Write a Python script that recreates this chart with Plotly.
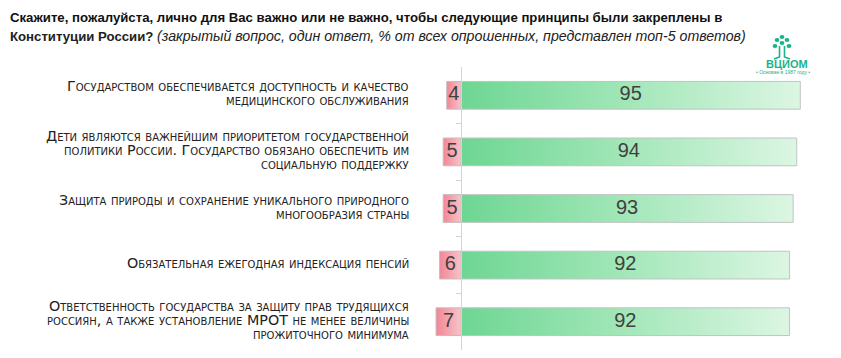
import plotly.graph_objects as go

categories = [
    "Государством обеспечивается доступность и качество<br>медицинского обслуживания",
    "Дети являются важнейшим приоритетом государственной<br>политики России. Государство обязано обеспечить им<br>социальную поддержку",
    "Защита природы и сохранение уникального природного<br>многообразия страны",
    "Обязательная ежегодная индексация пенсий",
    "Ответственность государства за защиту прав трудящихся<br>россиян, а также установление МРОТ не менее величины<br>прожиточного минимума",
]
not_important = [4, 5, 5, 6, 7]
important = [95, 94, 93, 92, 92]

title_line1 = "Скажите, пожалуйста, лично для Вас важно или не важно, чтобы следующие принципы были закреплены в"
title_line2_bold = "Конституции России?"
title_line2_note = "(закрытый вопрос, один ответ, % от всех опрошенных, представлен топ-5 ответов)"

W, H = 841, 358
ML, MR, MT, MB = 420, 5, 67, 8
XMIN, XMAX = -11.5, 105
PW = W - ML - MR
PH = H - MT - MB

def px_x(p):
    return (p - ML) / PW

def px_y(p):
    return 1 - (p - MT) / PH

BAR_H = 0.49
GREEN_SCALE = [[0, "#6dd693"], [0.5, "#a3e7b9"], [1, "#dcf6e3"]]
PINK_SCALE = [[0, "#f18796"], [1, "#f8c3c9"]]
NUM_FONT = dict(family="Liberation Sans, Arial, sans-serif", size=20, color="#404040")

fig = go.Figure()

for i, (ni, im) in enumerate(zip(not_important, important)):
    y0, y1 = i - BAR_H / 2, i + BAR_H / 2
    fig.add_trace(go.Scatter(
        x=[0, im, im, 0, 0], y=[y0, y0, y1, y1, y0],
        mode="lines", fill="toself",
        fillgradient=dict(type="horizontal", colorscale=GREEN_SCALE),
        line=dict(color="#bfc4c0", width=1),
        hoverinfo="skip", showlegend=False,
    ))
    fig.add_trace(go.Scatter(
        x=[-ni, 0, 0, -ni, -ni], y=[y0, y0, y1, y1, y0],
        mode="lines", fill="toself",
        fillgradient=dict(type="horizontal", colorscale=PINK_SCALE),
        line=dict(color="#c9b9bb", width=1),
        hoverinfo="skip", showlegend=False,
    ))

idx = list(range(len(categories)))
fig.add_trace(go.Scatter(
    x=[v / 2 for v in important], y=idx, mode="text",
    text=[str(v) for v in important], textfont=NUM_FONT,
    hoverinfo="skip", showlegend=False,
))
fig.add_trace(go.Scatter(
    x=[-v / 2 for v in not_important], y=idx, mode="text",
    text=[str(v) for v in not_important], textfont=NUM_FONT,
    hoverinfo="skip", showlegend=False,
))

annotations = []
LINE_STEP = 14
for i, cat in enumerate(categories):
    lines = cat.split("<br>")
    n = len(lines)
    for k, ln in enumerate(lines):
        annotations.append(dict(
            x=px_x(411), xref="paper", y=i, yref="y",
            xanchor="right", yanchor="middle", showarrow=False,
            yshift=-((k - (n - 1) / 2) * LINE_STEP) + 2,
            text=ln,
            font=dict(family="DejaVu Sans, sans-serif", size=14.3, color="#222222", variant="small-caps"),
        ))

# title
TITLE_FONT = "Liberation Sans, Arial, sans-serif"
annotations.append(dict(
    x=px_x(8), xref="paper", y=px_y(17), yref="paper", xanchor="left", yanchor="middle",
    showarrow=False, text="<b>" + title_line1 + "</b>",
    font=dict(family=TITLE_FONT, size=13.2, color="#111111"),
))
annotations.append(dict(
    x=px_x(8), xref="paper", y=px_y(36), yref="paper", xanchor="left", yanchor="middle",
    showarrow=False,
    text="<b>" + title_line2_bold + "</b> <span style='font-size:14.2px'><i>" + title_line2_note + "</i></span>",
    font=dict(family=TITLE_FONT, size=13.2, color="#222222"),
))

# logo
LOGO = "#1db389"
annotations.append(dict(
    x=px_x(787), xref="paper", y=px_y(64), yref="paper", xanchor="center", yanchor="middle",
    showarrow=False, text="<b>ВЦИОМ</b>",
    font=dict(family="Liberation Sans, Arial, sans-serif", size=11, color=LOGO),
))
annotations.append(dict(
    x=px_x(783), xref="paper", y=px_y(72), yref="paper", xanchor="center", yanchor="middle",
    showarrow=False, text="• Основан в 1987 году •",
    font=dict(family="Liberation Sans, Arial, sans-serif", size=5, color=LOGO),
))

shapes = []
for cx, cy in [(782, 37), (777, 40), (787, 40), (775, 46), (789, 46), (782, 43)]:
    shapes.append(dict(type="circle", xref="paper", yref="paper",
                       x0=px_x(cx - 2.4), x1=px_x(cx + 2.4), y0=px_y(cy - 2.0), y1=px_y(cy + 2.0),
                       fillcolor=LOGO, line=dict(width=0)))
for path_pts in [[(779.5, 46), (779.5, 57), (774, 59)], [(784.5, 46), (784.5, 57), (790, 59)]]:
    d = "M " + " L ".join(f"{px_x(a)},{px_y(b)}" for a, b in path_pts)
    shapes.append(dict(type="path", xref="paper", yref="paper", path=d,
                       line=dict(color=LOGO, width=1.6)))

fig.update_layout(
    width=W, height=H,
    margin=dict(l=ML, r=MR, t=MT, b=MB, pad=0),
    paper_bgcolor="white", plot_bgcolor="white",
    xaxis=dict(range=[XMIN, XMAX], visible=False, fixedrange=True),
    yaxis=dict(
        range=[len(categories) - 0.5, -0.5],
        anchor="free", position=(0 - XMIN) / (XMAX - XMIN),
        showline=True, linecolor="#d4d4d4", linewidth=1,
        tickvals=[i + 0.5 for i in range(len(categories) - 1)],
        ticks="outside", ticklen=5, tickcolor="#d4d4d4",
        showticklabels=False, showgrid=False, zeroline=False, fixedrange=True,
    ),
    annotations=annotations,
    shapes=shapes,
    showlegend=False,
)

fig.write_html("out.html")
